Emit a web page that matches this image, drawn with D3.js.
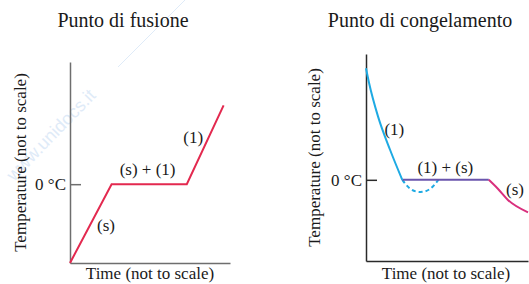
<!DOCTYPE html>
<html>
<head>
<meta charset="utf-8">
<script src="https://cdn.jsdelivr.net/npm/d3@7"></script>
<style>
  html, body { margin: 0; padding: 0; background: #fff; }
  svg text { font-family: "Liberation Serif", "Times New Roman", serif; fill: #1a1a1a; }
</style>
</head>
<body>
<svg id="chart" width="529" height="284"></svg>
<script>
'use strict';

// ---- data (time and temperature are in arbitrary "not to scale" units) ----
const titles = ["Punto di fusione", "Punto di congelamento"];
const yAxisLabel = "Temperature (not to scale)";
const xAxisLabel = "Time (not to scale)";
const yTickValues = [0];
const yTickLabels = ["0 °C"];

// melting curve
const meltTime = [0, 26, 73, 96];
const meltTemp = [-40, 0, 0, 40];

// freezing curve: liquid cooling, supercooling dip, plateau, solid cooling
const liquidTime = [0, 1.9, 7.5, 14.9, 22.4];
const liquidTemp = [55, 47.7, 31, 14.7, 0];
const superTime = [22.4, 27.5, 33.5, 39.5, 44.7];
const superTemp = [0, -4.5, -6, -4.5, 0];
const plateauTime = [22.4, 75.8];
const plateauTemp = [0, 0];
const solidTime = [75.8, 81.4, 87.6, 100];
const solidTemp = [0, -4.4, -9.9, -16];

// phase labels [text, time, temperature]
const meltLabels = [["(s)", 22.5, -24], ["(s) + (1)", 48.5, 4.5], ["(1)", 77, 21]];
const freezeLabels = [["(1)", 17.5, 22], ["(1) + (s)", 49, 3.5], ["(s)", 92, -7.5]];

const tempDomain = [-40, 62];
const timeDomain = [0, 100];

const svg = d3.select("#chart");

// faint watermark
svg.append("text")
    .attr("transform", "translate(14,182) rotate(-46)")
    .style("font-family", "Liberation Sans, Arial, sans-serif")
    .style("font-size", "18px")
    .style("fill", "#dfebf8")
    .text("www.unidocs.it");
svg.append("line")
    .attr("x1", 118).attr("y1", 67).attr("x2", 186).attr("y2", -1)
    .style("stroke", "#dfebf8").style("stroke-width", 1);

function zip(xs, ys) {
    return xs.map((x, i) => ({ t: x, v: ys[i] }));
}

function panel(opts) {
    const { left, right, top, bottom, title, titleX, axisColor, yLabelX, labels } = opts;
    const g = svg.append("g");

    const x = d3.scaleLinear().domain(timeDomain).range([left, right]);
    const y = d3.scaleLinear().domain(tempDomain).range([bottom, top]);

    g.append("text")
        .attr("x", titleX).attr("y", 27)
        .attr("text-anchor", "middle")
        .style("font-size", "20px")
        .text(title);

    const yAxis = d3.axisLeft(y)
        .tickValues(yTickValues)
        .tickFormat((d, i) => yTickLabels[i])
        .tickSizeInner(-11)
        .tickSizeOuter(0)
        .tickPadding(4);
    const yg = g.append("g")
        .attr("transform", "translate(" + left + ",0)")
        .call(yAxis);
    yg.select(".domain").style("stroke", axisColor).style("stroke-width", 1.5);
    yg.selectAll(".tick line").style("stroke", axisColor).style("stroke-width", 1.5);
    yg.selectAll(".tick text")
        .style("font-family", "Liberation Serif, Times New Roman, serif")
        .style("font-size", "17px")
        .style("fill", "#1a1a1a");

    const xAxis = d3.axisBottom(x).tickValues([]).tickSizeOuter(0);
    const xg = g.append("g")
        .attr("transform", "translate(0," + bottom + ")")
        .call(xAxis);
    xg.select(".domain").style("stroke", axisColor).style("stroke-width", 1.5);

    g.append("text")
        .attr("transform", "translate(" + yLabelX + "," + (top + bottom) / 2 + ") rotate(-90)")
        .attr("text-anchor", "middle")
        .style("font-size", "17px")
        .text(yAxisLabel);

    g.append("text")
        .attr("x", (left + opts.xLabelRight) / 2).attr("y", 279)
        .attr("text-anchor", "middle")
        .style("font-size", "17px")
        .text(xAxisLabel);

    g.selectAll(".phase")
        .data(labels)
        .enter()
        .append("text")
        .attr("class", "phase")
        .attr("x", d => x(d[1]))
        .attr("y", d => y(d[2]))
        .attr("text-anchor", "middle")
        .style("font-size", "17px")
        .text(d => d[0]);

    return { g, x, y };
}

// ---- left: melting ----
const meltPanel = panel({
    left: 70, right: 230, top: 62, bottom: 263,
    title: titles[0], titleX: 123, axisColor: "#6e6e6e", yLabelX: 26,
    xLabelRight: 230, labels: meltLabels
});
const meltLine = d3.line()
    .x(d => meltPanel.x(d.t))
    .y(d => meltPanel.y(d.v));
meltPanel.g.append("path")
    .attr("d", meltLine(zip(meltTime, meltTemp)))
    .style("fill", "none")
    .style("stroke", "#e3294f")
    .style("stroke-width", 2);

// ---- right: freezing ----
const freezePanel = panel({
    left: 366, right: 528, top: 54, bottom: 261,
    title: titles[1], titleX: 420, axisColor: "#2a2a2a", yLabelX: 320,
    xLabelRight: 526, labels: freezeLabels
});
const fx = d => freezePanel.x(d.t);
const fy = d => freezePanel.y(d.v);

freezePanel.g.append("path")
    .attr("d", d3.line().x(fx).y(fy).curve(d3.curveNatural)(zip(superTime, superTemp)))
    .style("fill", "none")
    .style("stroke", "#1eaae3")
    .style("stroke-width", 2)
    .style("stroke-dasharray", "4 3");

freezePanel.g.append("path")
    .attr("d", d3.line().x(fx).y(fy)(zip(plateauTime, plateauTemp)))
    .style("fill", "none")
    .style("stroke", "#6a55ad")
    .style("stroke-width", 2);

freezePanel.g.append("path")
    .attr("d", d3.line().x(fx).y(fy).curve(d3.curveMonotoneX)(zip(liquidTime, liquidTemp)))
    .style("fill", "none")
    .style("stroke", "#1eaae3")
    .style("stroke-width", 2);

freezePanel.g.append("path")
    .attr("d", d3.line().x(fx).y(fy).curve(d3.curveMonotoneX)(zip(solidTime, solidTemp)))
    .style("fill", "none")
    .style("stroke", "#d92f7d")
    .style("stroke-width", 2);
</script>
</body>
</html>
